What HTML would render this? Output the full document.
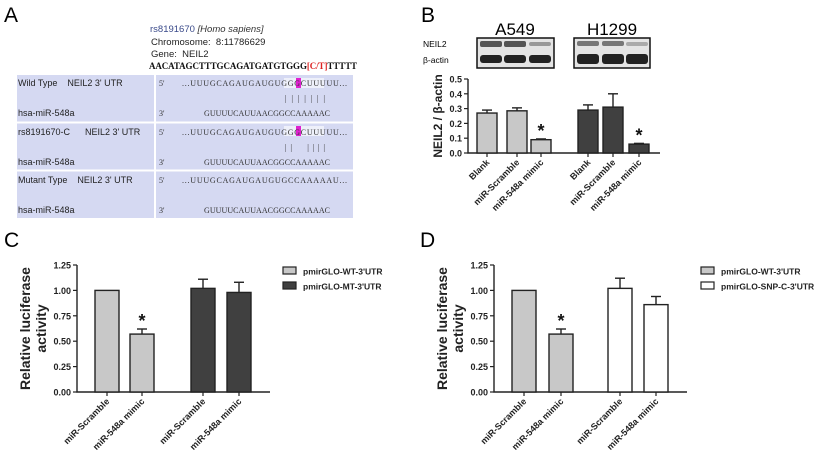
<!DOCTYPE html>
<html><head><meta charset="utf-8"><style>
body{margin:0;background:#fff;width:825px;height:461px;overflow:hidden;font-family:"Liberation Sans",sans-serif}
svg{position:absolute;left:0;top:0}
text{white-space:pre}
.s{font-family:"Liberation Serif",serif;font-size:8px;fill:#333}
.l{font-size:9px;fill:#222}
</style></head><body>
<svg id="fig" width="825" height="461">
<text x="4" y="22" font-size="21">A</text>
<text x="421" y="22" font-size="21">B</text>
<text x="4" y="247" font-size="21">C</text>
<text x="420" y="247" font-size="21">D</text>
<g>
<text x="150" y="32" font-size="9.5" fill="#3a4a8a">rs8191670 <tspan font-style="italic" fill="#333">[Homo sapiens]</tspan></text>
<text x="151" y="45" font-size="9.5" fill="#222">Chromosome:  8:11786629</text>
<text x="151" y="57" font-size="9.5" fill="#222">Gene:  NEIL2</text>
<text x="149" y="69" font-family="Liberation Serif,serif" font-weight="bold" font-size="9" fill="#111" textLength="208">AACATAGCTTTGCAGATGATGTGGG<tspan fill="#d22">[C/T]</tspan>TTTTT</text>
</g>
<g>
<rect x="17" y="75" width="336" height="143" fill="#d5d9f2"/>
<line x1="155" y1="75" x2="155" y2="218" stroke="#fff" stroke-width="2"/>
<line x1="17" y1="122.5" x2="353" y2="122.5" stroke="#fff" stroke-width="2"/>
<line x1="17" y1="170.5" x2="353" y2="170.5" stroke="#fff" stroke-width="2"/>
<rect x="284" y="78" width="40" height="10" fill="#eef0fa"/>
<rect x="284" y="126" width="40" height="10" fill="#eef0fa"/>
<rect x="296" y="78" width="5" height="10" fill="#e020d0"/>
<rect x="296" y="126" width="5" height="10" fill="#e020d0"/>
<text class="l" x="18" y="86">Wild Type    NEIL2 3' UTR</text>
<text class="l" x="18" y="116">hsa-miR-548a</text>
<text class="l" x="18" y="135">rs8191670-C      NEIL2 3' UTR</text>
<text class="l" x="18" y="165">hsa-miR-548a</text>
<text class="l" x="18" y="183">Mutant Type    NEIL2 3' UTR</text>
<text class="l" x="18" y="213">hsa-miR-548a</text>
<text class="s" x="159" y="86">5'</text><text class="s" x="182" y="86" textLength="165">...UUUGCAGAUGAUGUGGGCUUUUU...</text>
<text class="s" x="285" y="101" textLength="40">|||||||</text>
<text class="s" x="159" y="116">3'</text><text class="s" x="204" y="116" textLength="126">GUUUUCAUUAACGGCCAAAAAC</text>
<text class="s" x="159" y="135">5'</text><text class="s" x="182" y="135" textLength="165">...UUUGCAGAUGAUGUGGGCUUUUU...</text>
<text class="s" x="285" y="150" textLength="40">||  ||||</text>
<text class="s" x="159" y="165">3'</text><text class="s" x="204" y="165" textLength="126">GUUUUCAUUAACGGCCAAAAAC</text>
<text class="s" x="159" y="183">5'</text><text class="s" x="182" y="183" textLength="165">...UUUGCAGAUGAUGUGCCAAAAAU...</text>
<text class="s" x="159" y="213">3'</text><text class="s" x="204" y="213" textLength="126">GUUUUCAUUAACGGCCAAAAAC</text>
</g>
<g>
<text x="515" y="35" font-size="17" text-anchor="middle">A549</text>
<text x="612" y="35" font-size="17" text-anchor="middle">H1299</text>
<text x="423" y="47" font-size="8.5">NEIL2</text>
<text x="423" y="63" font-size="8.5">β-actin</text>
<rect x="477" y="38" width="77" height="30" fill="#e4e4e4" stroke="#111" stroke-width="1.5"/>
<rect x="574" y="38" width="76" height="30" fill="#e4e4e4" stroke="#111" stroke-width="1.5"/>
<g fill="#555"><rect x="480" y="41" width="22" height="6" rx="2"/><rect x="504" y="41" width="22" height="6" rx="2"/><rect x="529" y="42" width="22" height="4" rx="2" fill="#999"/>
<rect x="577" y="41" width="22" height="5" rx="2" fill="#777"/><rect x="602" y="41" width="22" height="5" rx="2" fill="#777"/><rect x="626" y="42" width="22" height="4" rx="2" fill="#aaa"/></g>
<g fill="#222"><rect x="480" y="55" width="22" height="8" rx="3"/><rect x="504" y="55" width="22" height="8" rx="3"/><rect x="529" y="55" width="22" height="8" rx="3"/>
<rect x="577" y="54" width="22" height="10" rx="3"/><rect x="602" y="54" width="22" height="10" rx="3"/><rect x="626" y="54" width="22" height="10" rx="3"/></g>
</g>
<g id="chartB"></g>
<g id="chartC"></g>
<g id="chartD"></g>
</svg>
<script>
const bCats=["Blank","miR-Scramble","miR-548a mimic","Blank","miR-Scramble","miR-548a mimic"];
const bVals=[0.27,0.285,0.09,0.29,0.31,0.06];
const bErr=[0.02,0.02,0.005,0.035,0.09,0.005];
const bTicks=["0.0","0.1","0.2","0.3","0.4","0.5"];
const cCats=["miR-Scramble","miR-548a mimic","miR-Scramble","miR-548a mimic"];
const cVals=[1.0,0.57,1.02,0.98];
const cErr=[0,0.05,0.09,0.1];
const dVals=[1.0,0.57,1.02,0.86];
const dErr=[0,0.05,0.1,0.08];
const lucTicks=["0.00","0.25","0.50","0.75","1.00","1.25"];
const NS="http://www.w3.org/2000/svg";
function mk(p,t,a){const e=document.createElementNS(NS,t);for(const k in a)e.setAttribute(k,a[k]);p.appendChild(e);return e;}
function chart(g,o){
 const y=v=>o.y0-(v/o.max)*(o.y0-o.y1);
 const ax=mk(g,'path',{d:`M${o.ax} ${o.y1}V${o.y0}H${o.xe}`,stroke:'#222','stroke-width':1.4,fill:'none'});
 
 
 o.ticks.forEach((t,i)=>{const v=i*o.step;const yy=y(v);
  mk(g,'line',{x1:o.ax-4,x2:o.ax,y1:yy,y2:yy,stroke:'#222','stroke-width':1.2});
  const tx=mk(g,'text',{x:o.ax-6,y:yy+3.5,'text-anchor':'end','font-size':o.tkfs,'font-weight':'bold',fill:'#222'});tx.textContent=t;
  
  });
 const yt=mk(g,'text',{transform:`translate(${o.tx},${(o.y0+o.y1)/2}) rotate(-90)`,'text-anchor':'middle','font-size':o.tfs,'font-weight':'bold',fill:'#222'});
 
 
 o.title.forEach((l,i)=>{const ts=mk(yt,'tspan',{x:0,dy:i?o.tfs+2:0});ts.textContent=l;});
 o.vals.forEach((v,i)=>{const x=o.ax+o.off[i];const top=y(v);const cx=x+o.bw/2;
  if(o.err[i]>0){const ey=y(v+o.err[i]);
   mk(g,'line',{x1:cx,x2:cx,y1:top,y2:ey,stroke:'#222','stroke-width':1.4});
   mk(g,'line',{x1:cx-5,x2:cx+5,y1:ey,y2:ey,stroke:'#222','stroke-width':1.4});}
  const r=mk(g,'rect',{x:x,y:top,width:o.bw,height:o.y0-top,fill:o.fills[i],stroke:'#222','stroke-width':1.4});
  
  
  mk(g,'line',{x1:cx,x2:cx,y1:o.y0,y2:o.y0+4,stroke:'#222','stroke-width':1.2});
  if(o.star[i]){const s=mk(g,'text',{x:cx,y:y(v+o.err[i])+10,'text-anchor':'middle','font-size':18,'font-weight':'bold',fill:'#111'});s.textContent='*';
   s.setAttribute('transform',`translate(0,-12)`);}
  const lb=mk(g,'text',{transform:`translate(${cx+3},${o.y0+10}) rotate(-45)`,'text-anchor':'end','font-size':o.xfs,'font-weight':'bold',fill:'#222'});
  lb.textContent=o.cats[i];
  
  });
 (o.legend||[]).forEach((l,i)=>{const ly=o.ly+i*15;
  const lr=mk(g,'rect',{x:o.lx,y:ly-5,width:13,height:7,fill:l[1],stroke:'#222','stroke-width':1.2});
  
  
  const lt=mk(g,'text',{x:o.lx+20,y:ly+2.5,'font-size':8.5,'font-weight':'bold',fill:'#222'});lt.textContent=l[0];
  
  });
}
const L='#c8c8c8',Dk='#404040',W='#ffffff';
chart(document.getElementById('chartB'),{ax:468,xe:660,y0:153,y1:79,max:0.5,step:0.1,ticks:bTicks,vals:bVals,err:bErr,cats:bCats,
 off:[9,39,63,110,135,161],bw:20,fills:[L,L,L,Dk,Dk,Dk],star:[0,0,1,0,0,1],title:["NEIL2 / β-actin"],tx:442,tfs:12,tkfs:9,xfs:9});
chart(document.getElementById('chartC'),{ax:77,xe:270,y0:392,y1:265,max:1.25,step:0.25,ticks:lucTicks,vals:cVals,err:cErr,cats:cCats,
 off:[18,53,114,150],bw:24,fills:[L,L,Dk,Dk],star:[0,1,0,0],title:["Relative luciferase","activity"],tx:30,tfs:14,tkfs:9,xfs:9,
 legend:[["pmirGLO-WT-3'UTR",L],["pmirGLO-MT-3'UTR",Dk]],lx:283,ly:272});
chart(document.getElementById('chartD'),{ax:494,xe:687,y0:392,y1:265,max:1.25,step:0.25,ticks:lucTicks,vals:dVals,err:dErr,cats:cCats,
 off:[18,55,114,150],bw:24,fills:[L,L,W,W],star:[0,1,0,0],title:["Relative luciferase","activity"],tx:447,tfs:14,tkfs:9,xfs:9,
 legend:[["pmirGLO-WT-3'UTR",L],["pmirGLO-SNP-C-3'UTR",W]],lx:701,ly:272});
</script>
</body></html>
